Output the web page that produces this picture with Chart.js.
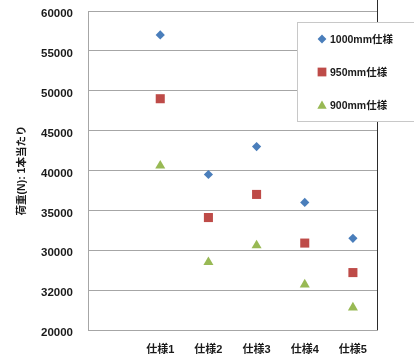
<!DOCTYPE html>
<html>
<head>
<meta charset="utf-8">
<script src="https://cdn.jsdelivr.net/npm/chart.js@4/dist/chart.umd.min.js"></script>
<style>
  html, body { margin: 0; padding: 0; background: #ffffff; }
  #wrap { width: 414px; height: 356px; position: relative; }
</style>
</head>
<body>
<div id="wrap"><canvas id="c" width="414" height="356"></canvas></div>
<script>
// Specification categories (the first slot of the axis is left empty)
const categories = ["仕様1", "仕様2", "仕様3", "仕様4", "仕様5"];

// Load per member (N) for each length
const load1000 = [57000, 39500, 43000, 36000, 31500];
const load950  = [49000, 34100, 37000, 30900, 27200];
const load900  = [40600, 28500, 30600, 25700, 22800];

// Series names
const seriesNames = ["1000mm仕様", "950mm仕様", "900mm仕様"];

// Y axis tick labels, bottom to top
const yTickLabels = ["20000", "32000", "30000", "35000", "40000", "45000", "50000", "55000", "60000"];

const yTitle = "荷重(N): 1本当たり";

const FONT = "'Liberation Sans', 'Noto Sans CJK JP', sans-serif";
const TEXT = "#1a1a1a";
const GRID = "#a6a6a6";

const labels = [""].concat(categories);
const withGap = arr => [null].concat(arr);

const styles = [
  { color: "#4a7ebb", shape: "rectRot", radius: 4.6 },
  { color: "#be4b48", shape: "rect", radius: 6.4 },
  { color: "#98b954", shape: "triangle", radius: 5.8 }
];
const seriesData = [load1000, load950, load900];

const datasets = seriesData.map((d, i) => ({
  label: seriesNames[i],
  data: withGap(d),
  showLine: false,
  pointStyle: styles[i].shape,
  pointRadius: styles[i].radius,
  pointHoverRadius: styles[i].radius,
  pointBackgroundColor: styles[i].color,
  pointBorderColor: styles[i].color,
  pointBorderWidth: 0,
  borderColor: styles[i].color,
  backgroundColor: styles[i].color
}));

// Dark right edge of the plot frame plus the boxed legend in the upper right
const framePlugin = {
  id: "frameAndLegend",
  afterDraw(chart) {
    const { ctx, chartArea } = chart;
    ctx.save();
    ctx.strokeStyle = "#2b2b2b";
    ctx.lineWidth = 1;
    ctx.beginPath();
    ctx.moveTo(Math.round(chartArea.right) + 0.5, 0);
    ctx.lineTo(Math.round(chartArea.right) + 0.5, chartArea.bottom);
    ctx.stroke();

    // legend box
    const bx = 297.5, by = 22.5, bw = 130, bh = 99;
    ctx.fillStyle = "#ffffff";
    ctx.fillRect(bx, by, bw, bh);
    ctx.strokeStyle = "#c8c8c8";
    ctx.strokeRect(bx, by, bw, bh);

    ctx.font = "bold 10.5px " + FONT;
    ctx.textAlign = "left";
    ctx.textBaseline = "middle";
    const rows = [39, 72, 105];
    chart.data.datasets.forEach((ds, i) => {
      const s = styles[i];
      ctx.fillStyle = s.color;
      ctx.strokeStyle = s.color;
      const r = i === 2 ? 5.4 : (i === 1 ? 6.2 : 4.4);
      const yOff = i === 2 ? 1 : 0;
      Chart.helpers.drawPoint(ctx, { pointStyle: s.shape, radius: r, borderWidth: 0, rotation: 0 }, 322, rows[i] + yOff);
      ctx.fillStyle = TEXT;
      ctx.fillText(ds.label, 330, rows[i] + 1);
    });
    ctx.restore();
  }
};

new Chart(document.getElementById("c"), {
  type: "line",
  data: { labels, datasets },
  options: {
    responsive: false,
    animation: false,
    devicePixelRatio: 1,
    clip: false,
    layout: { autoPadding: false, padding: { top: 11, right: 37, left: 0, bottom: 0 } },
    plugins: { legend: { display: false }, tooltip: { enabled: false } },
    scales: {
      x: {
        type: "category",
        offset: true,
        grid: { display: false, drawTicks: false },
        border: { display: true, color: GRID, width: 1 },
        ticks: {
          padding: 13,
          color: TEXT,
          font: { family: FONT, size: 11, weight: "bold" },
          maxRotation: 0,
          autoSkip: false
        },
        afterFit(scale) {
          scale.height = 26;
          scale.paddingLeft = 0;
          scale.paddingRight = 0;
        }
      },
      y: {
        min: 20000,
        max: 60000,
        grid: { color: GRID, lineWidth: 1, drawTicks: false },
        border: { display: true, color: GRID, width: 1 },
        ticks: {
          stepSize: 5000,
          padding: 15,
          labelOffset: 3,
          color: TEXT,
          font: { family: FONT, size: 11.5, weight: "bold" },
          callback: (v, i) => yTickLabels[i]
        },
        title: {
          display: true,
          text: yTitle,
          color: TEXT,
          padding: { top: 16, bottom: 0 },
          font: { family: FONT, size: 10.5, weight: "bold" }
        },
        afterFit(scale) {
          scale.width = 88;
          scale.paddingTop = 0;
          scale.paddingBottom = 0;
        }
      }
    }
  },
  plugins: [framePlugin]
});
</script>
</body>
</html>
